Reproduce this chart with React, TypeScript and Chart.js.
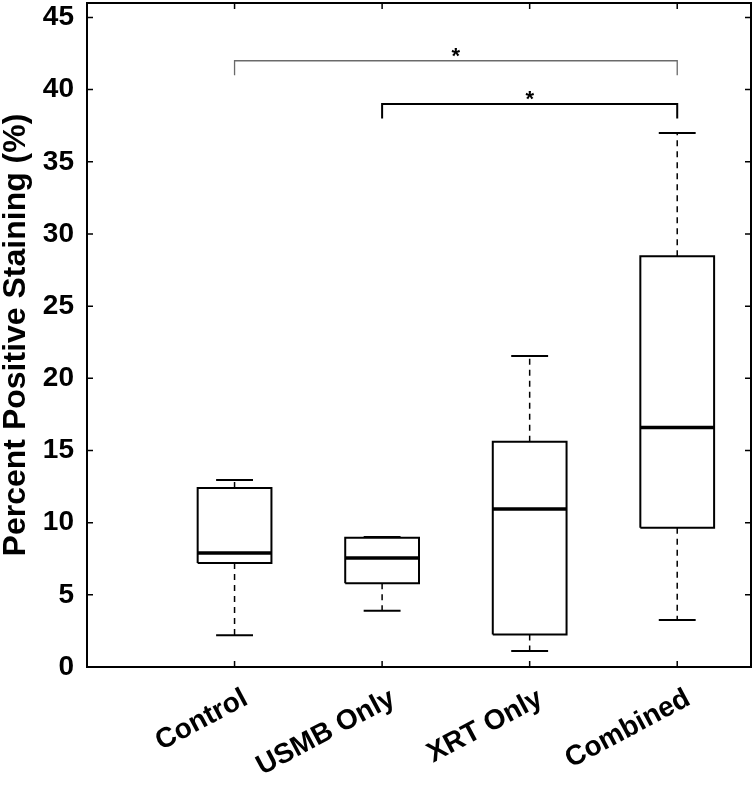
import React, { useEffect, useRef } from 'react';
import { Chart, registerables } from 'chart.js';

Chart.register(...registerables);

// ---- data ----
const categories = ['Control', 'USMB Only', 'XRT Only', 'Combined'];
const whiskerLow = [2.2, 3.9, 1.1, 3.25];
const quartile1 = [7.2, 5.8, 2.25, 9.65];
const medians = [7.9, 7.55, 10.95, 16.6];
const quartile3 = [12.4, 8.95, 15.6, 28.45];
const whiskerHigh = [12.95, 9.0, 21.55, 37.0];
const yTickValues = [0, 5, 10, 15, 20, 25, 30, 35, 40, 45];
const sigFrom = [1, 2];
const sigTo = [4, 4];
const sigLevels = [42, 39];
const sigMarks = ['*', '*'];
const sigColors = ['#6a6a6a', '#000000'];
const sigWidths = [1.3, 2];

// ---- styling constants ----
const FONT = '"Liberation Sans", Arial, Helvetica, sans-serif';
const BOX_HALF = 0.25;
const CAP_HALF = 0.125;
const LABEL_SHIFT = 0.075;
const TICK_LEN = 6;

function seg(points: { x: number; y: number }[], width: number, dash: number[] = [], color = '#000') {
  return {
    data: points,
    borderColor: color,
    backgroundColor: color,
    borderWidth: width,
    borderDash: dash,
    pointRadius: 0,
    pointHoverRadius: 0,
    fill: false,
    tension: 0,
    borderJoinStyle: 'miter' as const,
  };
}

function buildDatasets() {
  const ds: any[] = [];
  categories.forEach((_, i) => {
    const x = i + 1;
    ds.push(seg([{ x, y: quartile3[i] }, { x, y: whiskerHigh[i] }], 1.5, [6, 5]));
    ds.push(seg([{ x, y: quartile1[i] }, { x, y: whiskerLow[i] }], 1.5, [6, 5]));
    ds.push(seg([{ x: x - CAP_HALF, y: whiskerHigh[i] }, { x: x + CAP_HALF, y: whiskerHigh[i] }], 2));
    ds.push(seg([{ x: x - CAP_HALF, y: whiskerLow[i] }, { x: x + CAP_HALF, y: whiskerLow[i] }], 2));
    ds.push(
      seg(
        [
          { x: x - BOX_HALF, y: quartile1[i] },
          { x: x + BOX_HALF, y: quartile1[i] },
          { x: x + BOX_HALF, y: quartile3[i] },
          { x: x - BOX_HALF, y: quartile3[i] },
          { x: x - BOX_HALF, y: quartile1[i] },
        ],
        2
      )
    );
    ds.push(seg([{ x: x - BOX_HALF, y: medians[i] }, { x: x + BOX_HALF, y: medians[i] }], 3.5));
  });
  sigLevels.forEach((lvl, k) => {
    ds.push(
      seg(
        [
          { x: sigFrom[k], y: lvl - 1 },
          { x: sigFrom[k], y: lvl },
          { x: sigTo[k], y: lvl },
          { x: sigTo[k], y: lvl - 1 },
        ],
        sigWidths[k],
        [],
        sigColors[k]
      )
    );
  });
  return ds;
}

const framePlugin = {
  id: 'frame',
  afterDatasetsDraw(chart: any) {
    const { ctx, chartArea, scales } = chart;
    const { left, right, top, bottom } = chartArea;
    const xs = scales.x;
    const ys = scales.y;
    ctx.save();
    ctx.strokeStyle = '#000';
    ctx.lineWidth = 2;
    ctx.strokeRect(left, top, right - left, bottom - top);
    ctx.lineWidth = 1.5;
    ctx.beginPath();
    categories.forEach((_, i) => {
      const px = xs.getPixelForValue(i + 1);
      ctx.moveTo(px, bottom);
      ctx.lineTo(px, bottom - TICK_LEN);
      ctx.moveTo(px, top);
      ctx.lineTo(px, top + TICK_LEN);
    });
    yTickValues.forEach((v) => {
      const py = ys.getPixelForValue(v);
      ctx.moveTo(left, py);
      ctx.lineTo(left + TICK_LEN, py);
      ctx.moveTo(right, py);
      ctx.lineTo(right - TICK_LEN, py);
    });
    ctx.stroke();
    ctx.fillStyle = '#000';
    ctx.font = 'bold 22px ' + FONT;
    ctx.textAlign = 'center';
    ctx.textBaseline = 'alphabetic';
    sigLevels.forEach((lvl, k) => {
      const px = xs.getPixelForValue((sigFrom[k] + sigTo[k]) / 2);
      const py = ys.getPixelForValue(lvl);
      ctx.fillText(sigMarks[k], px, py + 2);
    });
    ctx.restore();
  },
};

export default function App() {
  const canvasRef = useRef<HTMLCanvasElement | null>(null);

  useEffect(() => {
    document.body.style.margin = '0';
    const canvas = canvasRef.current;
    if (!canvas) return;
    const chart = new Chart(canvas, {
      type: 'line',
      data: { datasets: buildDatasets() },
      options: {
        animation: false,
        responsive: true,
        maintainAspectRatio: false,
        layout: { padding: { top: 3, right: 4, left: 0, bottom: 0 } },
        plugins: {
          legend: { display: false },
          tooltip: { enabled: false },
        },
        scales: {
          x: {
            type: 'linear',
            min: 0,
            max: 4.5,
            grid: { display: false, drawTicks: false },
            border: { display: false },
            afterBuildTicks: (scale: any) => {
              scale.ticks = categories.map((_, i) => ({ value: i + 1 + LABEL_SHIFT }));
            },
            afterFit: (scale: any) => {
              scale.height = 119;
              scale.paddingLeft = 0;
              scale.paddingRight = 0;
            },
            ticks: {
              autoSkip: false,
              minRotation: 28,
              maxRotation: 28,
              padding: 15,
              color: '#000',
              font: { family: FONT, size: 28, weight: 'bold' },
              callback: (_v: any, i: number) => categories[i],
            },
          },
          y: {
            type: 'linear',
            min: 0,
            max: 46,
            grid: { display: false, drawTicks: false },
            border: { display: false },
            afterBuildTicks: (scale: any) => {
              scale.ticks = yTickValues.map((v) => ({ value: v }));
            },
            afterFit: (scale: any) => {
              scale.width = 87;
              scale.paddingTop = 0;
              scale.paddingBottom = 0;
            },
            ticks: {
              padding: 13,
              color: '#000',
              font: { family: FONT, size: 28, weight: 'bold' },
            },
            title: {
              display: true,
              text: 'Percent Positive Staining (%)',
              color: '#000',
              padding: { top: 0, bottom: 0 },
              font: { family: FONT, size: 32, weight: 'bold', lineHeight: 1 },
            },
          },
        },
      },
      plugins: [framePlugin],
    });
    return () => chart.destroy();
  }, []);

  return (
    <div style={{ width: 755, height: 786, position: 'relative', background: '#fff' }}>
      <canvas ref={canvasRef} />
    </div>
  );
}
